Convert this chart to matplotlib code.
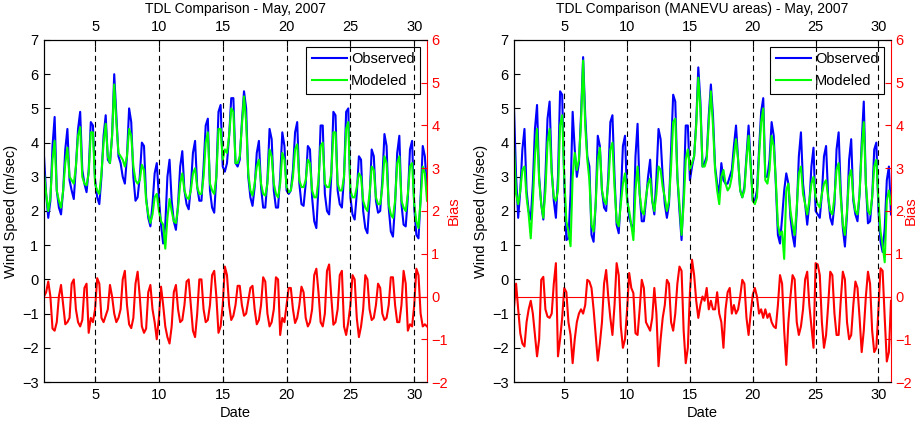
import numpy as np
import matplotlib.pyplot as plt

plt.rcParams['font.family'] = ['Liberation Sans', 'DejaVu Sans']
plt.rcParams['font.size'] = 10.5

# 4-hourly samples, May 1 00h .. May 31 00h
hours = np.arange(0, 30 * 24 + 1, 4)
dates = 1 + hours / 24.0

# ---------------- TDL (all sites) ----------------
obs_all = [
    3.6, 2.5, 1.8, 2.3, 3.9, 4.75,
    2.6, 2.1, 1.9, 2.6, 3.8, 4.4,
    2.9, 2.6, 2.35, 3.3, 4.4, 4.9,
    3.2, 2.8, 2.55, 3.2, 4.6, 4.5,
    2.9, 2.4, 2.2, 3.0, 4.2, 4.8,
    3.5, 3.4, 4.2, 6.0, 4.8, 3.6,
    3.4, 3.0, 2.8, 3.6, 5.0, 4.6,
    3.0, 2.3, 2.4, 3.0, 4.0, 3.9,
    2.4, 1.8, 1.55, 2.2, 3.1, 3.4,
    2.4, 1.6, 1.05, 1.6, 3.0, 3.5,
    2.3, 1.7, 1.45, 2.2, 3.3, 3.75,
    2.6, 2.2, 2.05, 2.7, 3.7, 4.05,
    2.7, 2.3, 2.3, 3.3, 4.5, 4.7,
    2.6, 2.1, 1.95, 3.0, 4.9, 5.1,
    3.3, 3.15, 3.4, 4.2, 5.3, 5.3,
    3.4, 3.3, 3.5, 4.6, 5.5, 5.0,
    3.0, 2.4, 2.15, 2.7, 3.7, 4.05,
    2.7, 2.1, 2.1, 2.9, 4.4, 4.1,
    2.6, 2.1, 2.1, 3.0, 4.3, 3.9,
    2.6, 2.5, 2.6, 3.2, 4.3, 4.6,
    2.8, 2.2, 2.15, 2.8, 3.9, 3.8,
    2.4, 1.7, 1.5, 2.7, 4.5, 4.5,
    2.5, 2.0, 1.9, 3.0, 4.9, 4.8,
    2.6, 2.2, 2.1, 3.0, 4.9, 5.0,
    2.4, 1.9, 1.75, 2.5, 3.6, 3.5,
    2.0, 1.5, 1.35, 2.3, 3.8, 3.6,
    2.3, 1.95, 2.0, 2.9, 4.25, 3.9,
    2.1, 1.4, 1.25, 2.2, 3.7, 4.2,
    2.2, 1.6, 1.55, 2.4, 3.8, 4.05,
    2.1, 1.3, 1.2, 2.4, 3.9, 3.6,
    2.6]

mod_all = [
    3.1, 2.5, 2.0, 2.4, 3.5, 4.05,
    2.6, 2.3, 2.1, 2.6, 3.4, 3.85,
    3.0, 2.9, 2.8, 3.3, 4.2, 4.45,
    3.0, 2.8, 2.75, 3.1, 4.3, 4.3,
    2.8, 2.6, 2.5, 3.1, 4.0, 4.55,
    3.6, 3.4, 4.2, 5.7, 4.6, 3.7,
    3.6, 3.5, 3.3, 3.6, 4.4, 4.2,
    3.3, 2.9, 2.8, 2.9, 3.35, 3.2,
    2.3, 1.9, 1.65, 1.9, 2.4, 2.5,
    2.0, 1.7, 1.6, 0.9, 1.8, 2.35,
    2.0, 1.7, 1.65, 2.1, 2.8, 3.1,
    2.6, 2.4, 2.35, 2.6, 3.1, 3.25,
    2.7, 2.5, 2.5, 3.0, 4.0, 4.3,
    2.8, 2.6, 2.5, 3.0, 4.4, 4.4,
    3.5, 3.8, 3.7, 4.2, 5.0, 4.9,
    3.4, 3.4, 3.6, 4.5, 5.35, 4.6,
    3.1, 2.6, 2.45, 2.8, 3.3, 3.5,
    2.8, 2.5, 2.45, 2.8, 3.8, 3.6,
    2.8, 2.5, 2.4, 2.8, 3.7, 3.5,
    2.7, 2.55, 2.6, 3.0, 3.8, 3.95,
    2.9, 2.7, 2.7, 2.9, 3.5, 3.4,
    2.6, 2.4, 2.4, 2.9, 3.9, 4.0,
    2.8, 2.7, 2.7, 3.1, 4.3, 4.3,
    2.8, 2.6, 2.6, 3.0, 4.4, 4.6,
    2.6, 2.4, 2.4, 2.7, 3.1, 3.0,
    2.3, 2.1, 2.0, 2.5, 3.3, 3.2,
    2.4, 2.2, 2.2, 2.7, 3.6, 3.4,
    2.2, 1.9, 1.8, 2.3, 3.4, 3.6,
    2.3, 2.1, 2.0, 2.5, 3.3, 3.4,
    2.2, 1.7, 1.5, 2.3, 3.3, 3.1,
    2.3]

bias_all = [
    0.0, 0.1, 0.35, 0.0, -0.75, -0.8,
    -0.6, 0.0, 0.27, -0.2, -0.65, -0.6,
    -0.5, 0.3, 0.4, -0.3, -0.6, -0.7,
    -0.55, 0.2, 0.3, -0.85, -0.5, -0.6,
    -0.3, 0.43, 0.3, -0.5, -0.6, -0.45,
    -0.3, 0.27, 0.0, -0.4, -0.6, -0.5,
    -0.3, 0.4, 0.6, -0.2, -0.65, -0.74,
    -0.5, 0.3, 0.58, 0.0, -0.7, -0.85,
    -0.75, 0.1, 0.27, -0.3, -0.6, -1.0,
    -0.5, 0.23, -0.2, -0.7, -0.95, -1.1,
    -0.7, 0.1, 0.27, -0.3, -0.6, -0.55,
    -0.2, 0.35, 0.4, -0.2, -0.8, -0.95,
    -0.4, 0.4, 0.4, -0.3, -0.6, -0.55,
    -0.2, 0.5, 0.6, 0.0, -0.85, -0.7,
    -0.2, 0.7, 0.5, -0.2, -0.55, -0.45,
    -0.2, 0.25, 0.25, -0.2, -0.45, -0.4,
    -0.1, 0.2, 0.25, -0.3, -0.65, -0.55,
    -0.2, 0.45, 0.35, -0.4, -0.7, -0.6,
    -0.3, 0.45, 0.4, -0.9, -0.5, -0.6,
    -0.2, 0.2, 0.2, -0.3, -0.62, -0.5,
    -0.2, 0.23, 0.1, -0.5, -0.7, -0.6,
    -0.3, 0.5, 0.65, 0.1, -0.6, -0.7,
    -0.4, 0.6, 0.75, 0.0, -0.66, -0.6,
    -0.3, 0.5, 0.6, -0.7, -0.9, -0.6,
    -0.2, 0.5, 0.4, -0.5, -0.95, -0.7,
    -0.3, 0.5, 0.4, -0.3, -0.55, -0.5,
    -0.2, 0.3, 0.2, -0.4, -0.55, -0.5,
    -0.2, 0.45, 0.45, -0.2, -0.6, -0.6,
    -0.2, 0.6, 0.3, -0.8, -0.65, -0.7,
    -0.2, 0.65, 0.5, -0.4, -0.7, -0.65,
    -0.7]

# ---------------- TDL (MANEVU areas) ----------------
obs_man = [
    5.0, 3.0, 1.8, 2.6, 3.8, 4.4,
    2.6, 2.0, 1.75, 2.8, 4.4, 5.1,
    3.0, 2.2, 1.75, 3.0, 4.7, 5.2,
    3.2, 2.3, 1.8, 3.0, 5.5, 5.4,
    2.8, 1.15, 1.2, 2.5, 4.9, 3.8,
    3.0, 3.4, 4.8, 6.5, 4.8, 3.6,
    3.3, 1.3, 1.1, 2.2, 4.2, 3.9,
    2.6, 2.1, 2.0, 3.0, 4.6, 4.8,
    3.0, 1.6, 1.35, 2.4, 3.9, 4.2,
    2.4, 1.8, 1.6, 1.4, 3.6, 4.55,
    2.5, 1.7, 1.7, 2.3, 3.0, 3.5,
    2.3, 1.9, 3.0, 4.4, 4.1, 3.0,
    2.2, 1.8, 2.2, 3.8, 5.4, 5.2,
    3.0, 2.0, 1.15, 2.5, 4.5, 4.5,
    2.9, 3.3, 3.6, 4.6, 6.2, 5.2,
    3.3, 3.4, 3.6, 4.8, 5.7, 4.8,
    3.3, 2.8, 2.5, 3.4, 2.9, 2.8,
    2.8, 3.0, 3.2, 3.9, 4.5, 3.5,
    2.6, 2.4, 2.7, 3.6, 4.5, 3.4,
    2.3, 2.3, 2.6, 3.8, 4.9, 5.3,
    3.0, 3.0, 3.5, 4.6, 4.2, 2.8,
    1.3, 1.05, 1.8, 2.6, 3.1, 2.8,
    1.8, 1.3, 0.96, 2.0, 3.6, 4.3,
    2.8, 2.2, 1.6, 2.2, 3.3, 3.85,
    2.0, 1.9, 1.8, 2.5, 3.6, 3.9,
    2.4, 1.8, 1.6, 2.2, 3.8, 4.3,
    2.6, 1.5, 0.96, 1.9, 3.5, 4.1,
    2.3, 1.9, 1.7, 2.5, 4.0, 5.2,
    2.8, 1.64, 1.7, 2.4, 3.8, 4.0,
    2.0, 1.1, 0.8, 1.5, 2.9, 3.3,
    1.9]

mod_man = [
    3.9, 2.5, 2.2, 2.6, 3.2, 3.3,
    2.4, 1.9, 1.2, 2.3, 3.6, 4.4,
    2.9, 2.2, 1.8, 2.6, 4.0, 4.4,
    3.1, 2.4, 2.3, 2.6, 4.5, 4.8,
    3.0, 1.7, 1.4, 0.97, 3.0, 3.7,
    3.2, 3.5, 4.6, 6.4, 4.5, 3.5,
    2.9, 1.6, 1.4, 2.2, 3.5, 3.85,
    2.6, 2.3, 2.2, 2.8, 3.8, 4.0,
    2.7, 1.7, 1.55, 2.2, 2.8, 3.1,
    2.3, 2.0, 1.6, 1.15, 2.6, 3.3,
    2.5, 2.0, 1.9, 2.4, 2.8, 2.95,
    2.3, 2.0, 2.5, 3.3, 3.2, 2.7,
    2.4, 2.0, 2.3, 3.3, 4.6, 4.7,
    3.0, 2.2, 1.3, 2.2, 3.5, 3.8,
    3.2, 3.4, 3.6, 4.5, 5.9, 5.0,
    3.3, 3.3, 3.5, 4.6, 5.5, 4.5,
    3.2, 2.6, 2.2, 3.0, 3.2, 2.8,
    2.6, 2.7, 3.0, 3.6, 4.1, 3.5,
    2.6, 2.4, 2.6, 3.5, 4.2, 3.3,
    2.3, 2.2, 2.4, 3.6, 4.6, 5.0,
    2.9, 2.8, 3.2, 4.2, 3.9, 2.9,
    1.6, 1.3, 1.4, 0.6, 2.6, 2.8,
    2.0, 1.6, 1.3, 2.1, 3.1, 3.3,
    2.5, 2.2, 1.9, 2.3, 2.8, 3.0,
    2.4, 2.2, 2.1, 2.5, 2.8, 2.9,
    2.4, 2.0, 1.9, 2.4, 3.2, 3.4,
    2.4, 1.6, 1.3, 2.0, 3.0, 3.2,
    2.4, 2.0, 1.9, 2.5, 3.8, 4.6,
    2.8, 2.0, 1.9, 2.4, 3.3, 3.5,
    2.3, 1.4, 1.0, 0.5, 2.3, 2.6,
    2.2]

bias_man = [
    -0.25, 0.3, -0.3, -0.86, -1.1, -1.17,
    -0.6, -0.3, -0.1, -0.4, -0.9, -1.4,
    -1.0, 0.39, 0.46, -0.3, -0.47, -0.5,
    -0.4, 0.3, 0.78, -1.4, -1.0, -0.5,
    0.2, 0.1, -0.6, -0.9, -1.56, -1.0,
    -0.6, -0.4, -0.3, -0.4, -0.2, 0.39,
    0.35, 0.2, -0.3, -0.9, -1.5, -1.1,
    -0.6, 0.3, 0.62, 0.0, -0.5, -0.9,
    -0.2, 0.78, 0.5, -0.7, -1.2, -1.0,
    -0.3, 0.55, 0.2, 0.08, -0.86, -0.9,
    -0.3, 0.39, 0.2, -0.6, -0.7, -0.8,
    -0.5, 0.2, -0.4, -1.63, -1.0, -0.5,
    -0.2, 0.39, 0.3, -0.6, -0.8, -0.4,
    0.3, 0.7, 0.6, -0.8, -1.56, -1.2,
    0.1, 0.86, 0.5, -0.1, -0.5, -0.2,
    0.0, -0.1, 0.2, -0.3, -0.1, -0.3,
    -0.3, 0.1, -0.4, -0.6, -1.2, -0.3,
    0.1, 0.2, -0.4, -0.2, -0.4, -0.3,
    0.0, 0.39, 0.3, -0.5, -0.9, -0.4,
    0.04, 0.2, 0.0, -0.4, -0.3, -0.5,
    -0.3, -0.5, -0.4, -0.6, -0.7, -0.74,
    -0.2, 0.5, 0.3, -0.8, -1.6, -0.6,
    0.0, 0.5, 0.4, -0.6, -0.9, -0.7,
    -0.3, 0.4, 0.58, -0.2, -0.7, -1.2,
    0.78, 0.75, 0.5, -0.6, -1.2, -0.9,
    -0.2, 0.58, 0.5, -0.4, -0.9, -0.9,
    -0.1, 0.58, 0.4, -0.6, -1.0, -0.9,
    -0.2, 0.35, 0.2, -0.5, -1.3, -0.8,
    0.0, 0.58, 0.3, -0.8, -1.3, -1.2,
    -0.3, 0.66, 0.6, -0.5, -1.52, -1.3,
    -0.1]

titles = ["TDL Comparison - May, 2007",
          "TDL Comparison (MANEVU areas) - May, 2007"]
panels = [(obs_all, mod_all, bias_all), (obs_man, mod_man, bias_man)]
grid_days = [5, 10, 15, 20, 25, 30]

W, H = 922, 426
boxes = [(44, 40, 427, 382), (514, 40, 891, 382)]
bias_label_x = [1.052, 1.034]

fig = plt.figure(figsize=(W / 100, H / 100), dpi=100)

for (x0, y0, x1, y1), title, (obs, mod, bias), lx in zip(boxes, titles, panels,
                                                          bias_label_x):
    ax = fig.add_axes([x0 / W, 1 - y1 / H, (x1 - x0) / W, (y1 - y0) / H])
    ax.plot(dates, obs, color="#0000ff", lw=1.5, label="Observed")
    ax.plot(dates, mod, color="#00ff00", lw=1.5, label="Modeled")
    ax.set_xlim(1, 31)
    ax.set_ylim(-3, 7)
    ax.set_xticks(grid_days)
    ax.set_yticks(range(-3, 8))
    ax.tick_params(direction="in", length=4, top=True, labeltop=True,
                   right=False, pad=4)
    ax.spines["right"].set_visible(False)
    ax.set_ylabel("Wind Speed (m/sec)", labelpad=3)
    ax.set_xlabel("Date", labelpad=3)
    ax.set_title(title, fontsize=10, pad=5)
    leg = ax.legend(loc="upper right", fancybox=False, edgecolor="k",
                    framealpha=1, handlelength=2.4, borderaxespad=0.45,
                    borderpad=0.4, labelspacing=0.5, handletextpad=0.3)
    leg.get_frame().set_linewidth(0.8)

    ax2 = ax.twinx()
    ax2.plot(dates, bias, color="#ff0000", lw=1.5)
    ax2.axhline(0, color="#ff0000", lw=0.8)
    for d in grid_days:
        ax2.axvline(d, color="k", lw=0.8, ls=(0, (5, 3.5)))
    ax2.set_ylim(-2, 6)
    ax2.set_yticks(range(-2, 7))
    ax2.spines["right"].set_color("#ff0000")
    ax2.tick_params(axis="y", colors="#ff0000", direction="in", length=4, pad=3)
    ax2.set_ylabel("Bias", color="#ff0000")
    ax2.yaxis.set_label_coords(lx, 0.5)

fig.savefig("out.png", dpi=100)
